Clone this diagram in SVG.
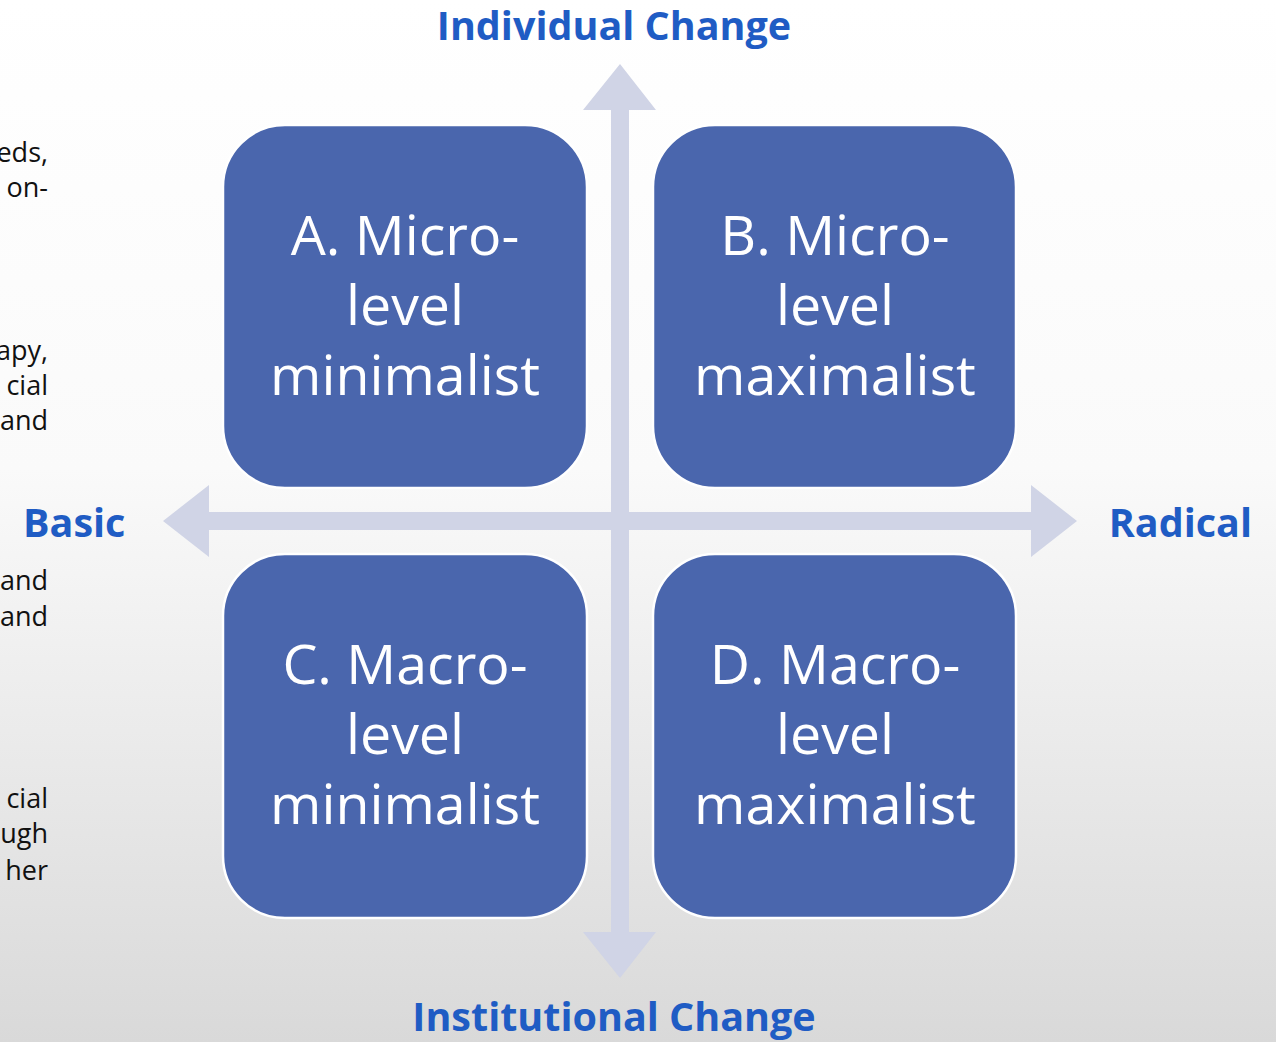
<svg xmlns="http://www.w3.org/2000/svg" width="1276" height="1042" viewBox="0 0 1276 1042">
<defs>
<linearGradient id="bg" x1="0" y1="0" x2="0" y2="1">
<stop offset="0" stop-color="#ffffff"/>
<stop offset="0.45" stop-color="#fafafa"/>
<stop offset="1" stop-color="#d9d9d9"/>
</linearGradient>
<style>
.box{fill:#4a66ad;stroke:#ffffff;stroke-width:2.5}
.bt{font-family:"Open Sans","Liberation Sans",sans-serif;font-size:55.5px;fill:#ffffff;text-anchor:middle}
.ax{font-family:"Open Sans","Liberation Sans",sans-serif;font-weight:bold;font-size:39.5px;fill:#1f5cc4}
.side{font-family:"Open Sans","Liberation Sans",sans-serif;font-size:27px;fill:#111111;text-anchor:end}
.arr{fill:#d0d4e6}
</style>
</defs>
<rect width="1276" height="1042" fill="url(#bg)"/>
<g id="side-text">
<text class="side" x="48" y="162">eds,</text>
<text class="side" x="48" y="197">on-</text>
<text class="side" x="48" y="360">apy,</text>
<text class="side" x="48" y="395">cial</text>
<text class="side" x="48" y="430">and</text>
<text class="side" x="48" y="590">and</text>
<text class="side" x="48" y="626">and</text>
<text class="side" x="48" y="808">cial</text>
<text class="side" x="48" y="843">ugh</text>
<text class="side" x="48" y="880">her</text>
</g>
<g id="connectors">
<polygon class="arr" points="620,64 656,110 629,110 629,932 656,932 620,978 583,932 611,932 611,110 583,110"/>
<polygon class="arr" points="163,521 209,485 209,512 1031,512 1031,485 1077,521 1031,557 1031,530 209,530 209,557"/>
</g>
<g id="nodeA">
<rect class="box" x="223" y="125" width="364" height="363" rx="62"/>
<text class="bt" x="405" y="255">A. Micro-</text>
<text class="bt" x="405" y="325">level</text>
<text class="bt" x="405" y="395">minimalist</text>
</g>
<g id="nodeB">
<rect class="box" x="653" y="125" width="363" height="363" rx="62"/>
<text class="bt" x="835" y="255">B. Micro-</text>
<text class="bt" x="835" y="325">level</text>
<text class="bt" x="835" y="395">maximalist</text>
</g>
<g id="nodeC">
<rect class="box" x="223" y="554" width="364" height="364" rx="62"/>
<text class="bt" x="405" y="684">C. Macro-</text>
<text class="bt" x="405" y="754">level</text>
<text class="bt" x="405" y="824">minimalist</text>
</g>
<g id="nodeD">
<rect class="box" x="653" y="554" width="363" height="364" rx="62"/>
<text class="bt" x="835" y="684">D. Macro-</text>
<text class="bt" x="835" y="754">level</text>
<text class="bt" x="835" y="824">maximalist</text>
</g>
<g id="axis-labels">
<text class="ax" x="614" y="40" text-anchor="middle">Individual Change</text>
<text class="ax" x="614" y="1031" text-anchor="middle">Institutional Change</text>
<text class="ax" x="23" y="537">Basic</text>
<text class="ax" x="1252" y="537" text-anchor="end">Radical</text>
</g>
</svg>
